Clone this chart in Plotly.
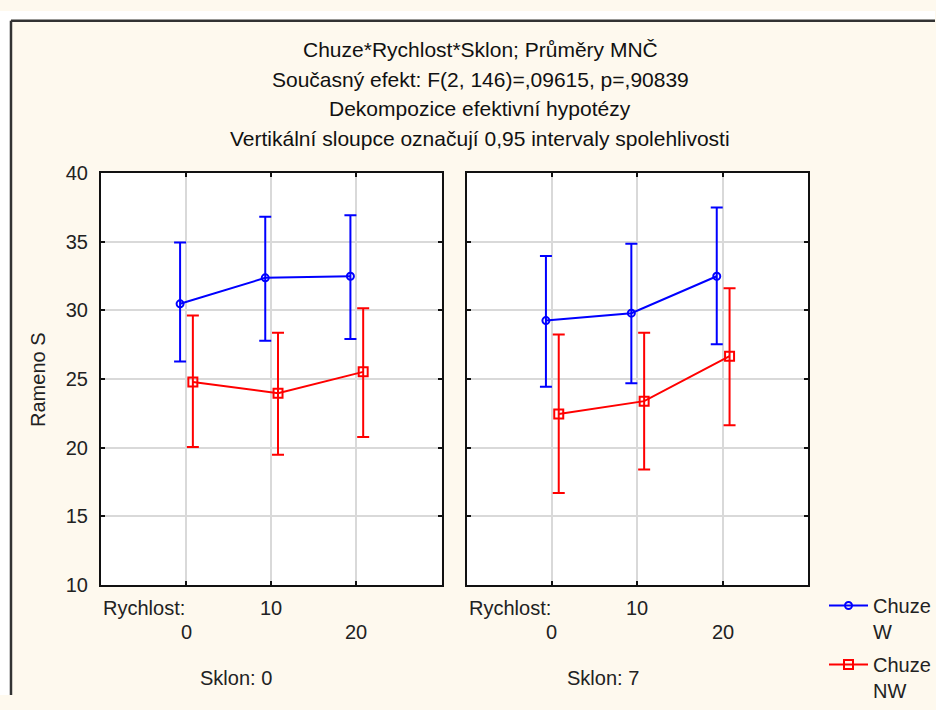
import plotly.graph_objects as go

# ---------------- data ----------------
rychlost = ["0", "10", "20"]
sklon = ["0", "7"]

# Sklon 0
w0_mean = [30.47, 32.36, 32.48]
w0_up = [34.93, 36.80, 36.92]
w0_lo = [26.27, 27.79, 27.92]
nw0_mean = [24.79, 23.97, 25.52]
nw0_up = [29.63, 28.37, 30.14]
nw0_lo = [20.05, 19.49, 20.78]

# Sklon 7
w7_mean = [29.25, 29.79, 32.48]
w7_up = [33.95, 34.84, 37.48]
w7_lo = [24.44, 24.70, 27.53]
nw7_mean = [22.46, 23.39, 26.66]
nw7_up = [28.23, 28.37, 31.61]
nw7_lo = [16.71, 18.42, 21.64]

series_names = ["Chuze<br>W", "Chuze<br>NW"]
title_lines = [
    "Chuze*Rychlost*Sklon; Průměry MNČ",
    "Současný efekt: F(2, 146)=,09615, p=,90839",
    "Dekompozice efektivní hypotézy",
    "Vertikální sloupce označují 0,95 intervaly spolehlivosti",
]
y_title = "Rameno S"

# ---------------- style ----------------
W, H = 936, 710
FONT = "Liberation Sans, Arial, sans-serif"
FS = 20
FS_T = 21
BLUE = "#0000FF"
RED = "#FF0000"
CREAM = "#FEF9EE"
GRID = "#D9D9D9"
OFF_W, OFF_NW = -0.07, 0.08


def px(x):
    return x / W


def py(y):
    return 1 - y / H


fig = go.Figure()

panels = [
    ("x", "y", w0_mean, w0_up, w0_lo, nw0_mean, nw0_up, nw0_lo, True),
    ("x2", "y2", w7_mean, w7_up, w7_lo, nw7_mean, nw7_up, nw7_lo, False),
]
for xa, ya, wm, wu, wl, nm, nu, nl, show in panels:
    idx = list(range(len(rychlost)))
    for mean, up, lo, col, sym, size, off, name in [
        (wm, wu, wl, BLUE, "circle-open", 7, OFF_W, series_names[0]),
        (nm, nu, nl, RED, "square-open", 9, OFF_NW, series_names[1]),
    ]:
        fig.add_trace(go.Scatter(
            x=[i + off for i in idx], y=mean,
            xaxis=xa, yaxis=ya,
            mode="lines+markers",
            name=name, legendgroup=name, showlegend=show,
            line=dict(color=col, width=2),
            marker=dict(symbol=sym, size=size, color=col, line=dict(color=col, width=2)),
            error_y=dict(type="data", symmetric=False,
                         array=[u - m for u, m in zip(up, mean)],
                         arrayminus=[m - l for m, l in zip(mean, lo)],
                         color=col, thickness=2, width=6),
        ))

ax_common = dict(
    range=[-1, 3], tickvals=[0, 1, 2], showticklabels=False,
    showgrid=True, gridcolor=GRID, gridwidth=1.5,
    showline=True, linecolor="#111", linewidth=2, mirror="ticks",
    ticks="inside", ticklen=4, tickcolor="#111", tickwidth=1.5,
    zeroline=False, fixedrange=True,
)
ay_common = dict(
    range=[10, 40], dtick=5, tick0=10,
    showgrid=True, gridcolor=GRID, gridwidth=1.5,
    showline=True, linecolor="#111", linewidth=2, mirror="ticks",
    ticks="inside", ticklen=4, tickcolor="#111", tickwidth=1.5,
    zeroline=False, fixedrange=True,
    tickfont=dict(family=FONT, size=FS, color="#222"),
)

fig.update_layout(
    width=W, height=H,
    margin=dict(l=0, r=0, t=0, b=0),
    paper_bgcolor=CREAM, plot_bgcolor="white",
    showlegend=True,
    xaxis=dict(domain=[px(101), px(442)], anchor="y", **ax_common),
    xaxis2=dict(domain=[px(467), px(809)], anchor="y2", **ax_common),
    yaxis=dict(domain=[py(596), py(168)], anchor="x", showticklabels=True,
               ticklabelstandoff=7, **ay_common),
    yaxis2=dict(domain=[py(596), py(168)], anchor="x2", showticklabels=False,
                **ay_common),
    legend=dict(x=px(825), y=py(597), xanchor="left", yanchor="top",
                bgcolor="rgba(0,0,0,0)", font=dict(family=FONT, size=FS, color="#222"),
                valign="top", tracegroupgap=4, itemwidth=39),
    font=dict(family=FONT, size=FS, color="#222"),
)

annotations = []
for i, t in enumerate(title_lines):
    annotations.append(dict(text=t, x=px(481), y=py([40, 71, 101, 132][i]),
                            xref="paper", yref="paper", xanchor="center", yanchor="middle",
                            showarrow=False, font=dict(family=FONT, size=FS_T, color="#111")))
annotations.append(dict(text=y_title, x=px(38), y=py(382), xref="paper", yref="paper",
                        textangle=-90, xanchor="center", yanchor="middle", showarrow=False,
                        font=dict(family=FONT, size=FS, color="#222")))
for xa, left, sk, skx in [("x", 101, sklon[0], 236), ("x2", 467, sklon[1], 604)]:
    annotations.append(dict(text="Rychlost:", x=px(left), y=py(620), xref="paper", yref="paper",
                            xanchor="left", yanchor="middle", showarrow=False))
    for i, lab in enumerate(rychlost):
        annotations.append(dict(text=lab, x=i, y=py(620 if i % 2 else 645), xref=xa, yref="paper",
                                xanchor="center", yanchor="middle", showarrow=False))
    annotations.append(dict(text="Sklon: " + sk, x=px(skx), y=py(692), xref="paper", yref="paper",
                            xanchor="center", yanchor="middle", showarrow=False))
fig.update_layout(annotations=annotations)

# outer frame (white margin outside, dark frame line)
shapes = [
    dict(type="rect", xref="paper", yref="paper", x0=0, x1=px(10), y0=0, y1=1,
         fillcolor="white", line=dict(width=0), layer="below"),
    dict(type="rect", xref="paper", yref="paper", x0=0, x1=1, y0=py(9), y1=1,
         fillcolor="white", line=dict(width=0), layer="below"),
    dict(type="line", xref="paper", yref="paper", x0=px(11), x1=px(11), y0=0, y1=py(10),
         line=dict(color="#333", width=2.5)),
    dict(type="line", xref="paper", yref="paper", x0=px(11), x1=1, y0=py(10), y1=py(10),
         line=dict(color="#333", width=2.5)),
]
fig.update_layout(shapes=shapes)

fig.write_html(
    "out.html",
    config={"displayModeBar": False},
    post_script="document.body.style.margin='0';document.body.style.overflow='hidden';",
)
